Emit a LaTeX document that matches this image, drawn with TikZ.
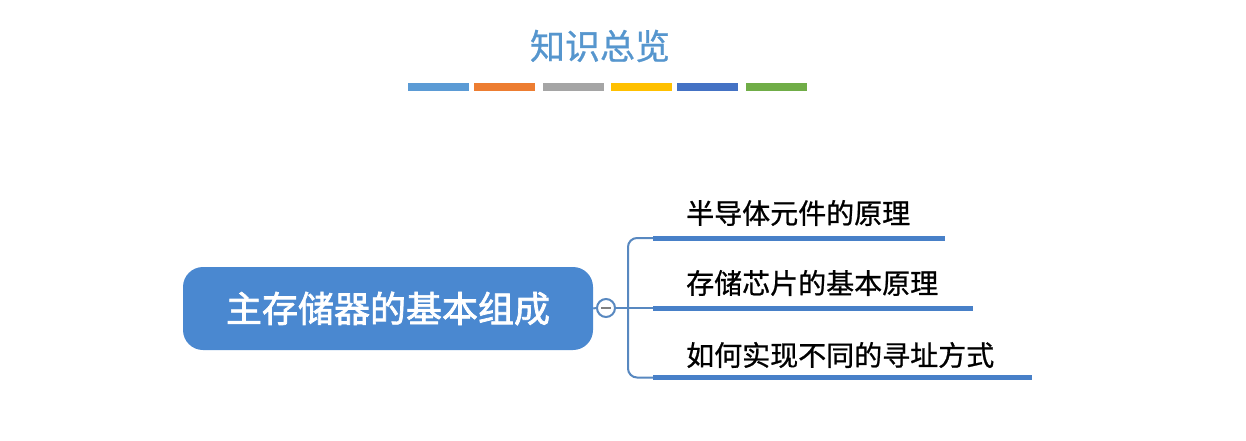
\documentclass[tikz,border=0pt]{standalone}
\usepackage{fontspec}
\setmainfont{Noto Sans CJK SC}
\newfontfamily\cjk{Noto Sans CJK SC}
\newfontfamily\cjkmid[FakeBold=0.8]{Noto Sans CJK SC}
\newfontfamily\cjkheavy[FakeBold=2]{Noto Sans CJK SC}
\definecolor{titleblue}{RGB}{86,150,206}
\definecolor{boxblue}{RGB}{74,136,208}
\definecolor{linkblue}{RGB}{88,136,192}
\definecolor{barblue}{RGB}{72,128,200}
\definecolor{cA}{RGB}{91,155,213}
\definecolor{cB}{RGB}{237,125,49}
\definecolor{cC}{RGB}{165,165,165}
\definecolor{cD}{RGB}{255,192,0}
\definecolor{cE}{RGB}{68,114,196}
\definecolor{cF}{RGB}{112,173,71}
\tikzset{
  deco/.style={fill=#1, draw=none, minimum height=8pt, minimum width=61pt, inner sep=0pt},
  rootbox/.style={fill=boxblue, draw=none, rounded corners=20pt, minimum width=410pt, minimum height=83pt, text=white, font=\cjkheavy\fontsize{36pt}{40pt}\selectfont},
  branchbar/.style={fill=barblue, draw=none, minimum height=5pt, inner sep=0pt, anchor=west},
  branchtext/.style={anchor=west, inner sep=0pt, text=black, font=\cjkmid\fontsize{28pt}{32pt}\selectfont},
  link/.style={draw=linkblue, line width=2pt},
  collapse/.style={circle, draw=linkblue, line width=2pt, fill=white, minimum size=18pt, inner sep=0pt}
}
\begin{document}
\begin{tikzpicture}[x=1pt,y=-1pt]
\useasboundingbox[fill=white] (0,0) rectangle (1246,441);
% title
\node[text=titleblue, font=\cjkmid\fontsize{35pt}{40pt}\selectfont] (title) at (600,46) {知识总览};
\node[deco=cA] (d1) at (438.5,87.5) {};
\node[deco=cB] (d2) at (504.5,87.5) {};
\node[deco=cC] (d3) at (573,87.5) {};
\node[deco=cD] (d4) at (641.5,87.5) {};
\node[deco=cE] (d5) at (707.5,87.5) {};
\node[deco=cF] (d6) at (776,87.5) {};
% root
\node[rootbox] (root) at (388,308.5) {主存储器的基本组成};
\node[collapse] (col) at (606,308) {};
\draw[gray, line width=1.8pt] (601,308) -- (611,308);
% branches
\node[branchbar, minimum width=292pt] (b1) at (653,238) {};
\node[branchbar, minimum width=320pt] (b2) at (653,308) {};
\node[branchbar, minimum width=379pt] (b3) at (653,377.5) {};
\node[branchtext] (t1) at (686,213) {半导体元件的原理};
\node[branchtext] (t2) at (686,283) {存储芯片的基本原理};
\node[branchtext] (t3) at (686,355) {如何实现不同的寻址方式};
\coordinate (j) at (628,308);
\draw[link] (root.east) -- (col.west);
\draw[link] (col.east) -- (b2.west);
\draw[link, rounded corners=9pt] (j) |- (b1.west);
\draw[link, rounded corners=9pt] (j) |- (b3.west);
\end{tikzpicture}
\end{document}
